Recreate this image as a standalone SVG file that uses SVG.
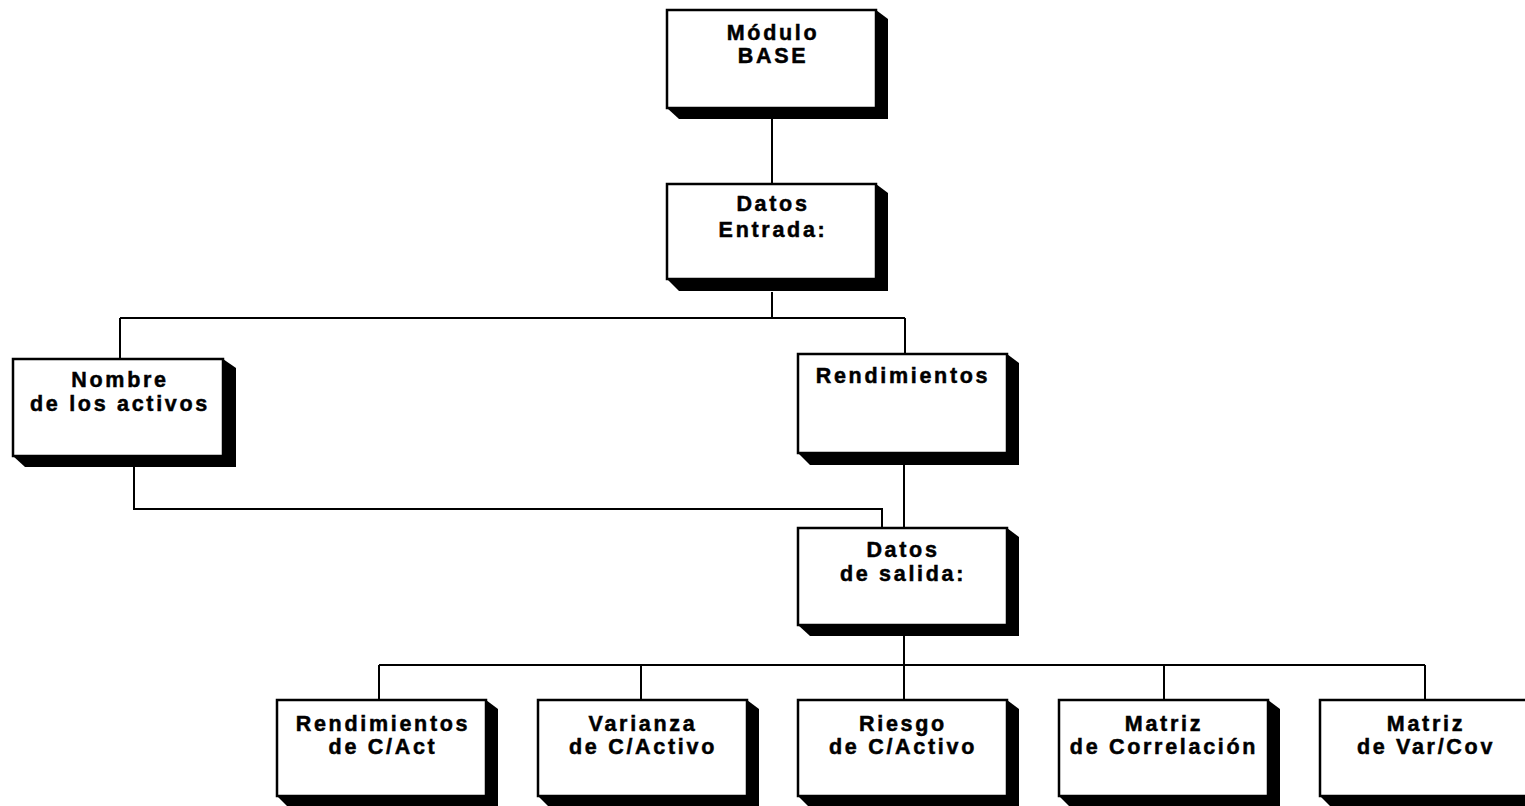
<svg xmlns="http://www.w3.org/2000/svg" width="1525" height="806" viewBox="0 0 1525 806">
<style>
.box{fill:#fff;stroke:#000;stroke-width:2.5}
.sh{fill:#000}
.t{font-family:"Liberation Sans",Arial,sans-serif;font-weight:bold;font-size:21.5px;letter-spacing:2.7px;text-anchor:middle;fill:#000;stroke:#000;stroke-width:0.5}
.c{fill:none;stroke:#000;stroke-width:2}
</style>
<rect width="1525" height="806" fill="#fff"/>
<g id="connectors">
<path class="c" d="M772,119 V184"/>
<path class="c" d="M772,292 V318 M120,318 H905 M120,318 V359 M905,318 V354"/>
<path class="c" d="M904,465 V528"/>
<path class="c" d="M134,467 V509 H882 V528"/>
<path class="c" d="M904,636 V700 M379,665 H1425 M379,665 V700 M641,665 V700 M1164,665 V700 M1425,665 V700"/>
</g>
<g id="modulo-base">
<path class="sh" d="M667,108 L679,119 L888,119 L888,19 L876,10 Z"/>
<rect class="box" x="667" y="10" width="209" height="98"/>
<text class="t" x="773" y="40">Módulo</text>
<text class="t" x="773" y="63">BASE</text>
</g>
<g id="datos-entrada">
<path class="sh" d="M667,279 L679,291 L888,291 L888,193 L876,184 Z"/>
<rect class="box" x="667" y="184" width="209" height="95"/>
<text class="t" x="773" y="211">Datos</text>
<text class="t" x="773" y="237">Entrada:</text>
</g>
<g id="nombre-activos">
<path class="sh" d="M13,456 L25,467 L236,467 L236,368 L223,359 Z"/>
<rect class="box" x="13" y="359" width="210" height="97"/>
<text class="t" x="120" y="387">Nombre</text>
<text class="t" x="120" y="411">de los activos</text>
</g>
<g id="rendimientos">
<path class="sh" d="M798,453 L810,465 L1019,465 L1019,363 L1007,354 Z"/>
<rect class="box" x="798" y="354" width="209" height="99"/>
<text class="t" x="903" y="383">Rendimientos</text>
</g>
<g id="datos-salida">
<path class="sh" d="M798,625 L810,636 L1019,636 L1019,537 L1007,528 Z"/>
<rect class="box" x="798" y="528" width="209" height="97"/>
<text class="t" x="903" y="557">Datos</text>
<text class="t" x="903" y="581">de salida:</text>
</g>
<g id="rend-cact">
<path class="sh" d="M277,796 L289,808 L498,808 L498,709 L486,700 Z"/>
<rect class="box" x="277" y="700" width="209" height="96"/>
<text class="t" x="383" y="731">Rendimientos</text>
<text class="t" x="383" y="754">de C/Act</text>
</g>
<g id="varianza">
<path class="sh" d="M538,796 L550,808 L759,808 L759,709 L747,700 Z"/>
<rect class="box" x="538" y="700" width="209" height="96"/>
<text class="t" x="643" y="731">Varianza</text>
<text class="t" x="643" y="754">de C/Activo</text>
</g>
<g id="riesgo">
<path class="sh" d="M798,796 L810,808 L1019,808 L1019,709 L1007,700 Z"/>
<rect class="box" x="798" y="700" width="209" height="96"/>
<text class="t" x="903" y="731">Riesgo</text>
<text class="t" x="903" y="754">de C/Activo</text>
</g>
<g id="matriz-correlacion">
<path class="sh" d="M1059,796 L1071,808 L1280,808 L1280,709 L1268,700 Z"/>
<rect class="box" x="1059" y="700" width="209" height="96"/>
<text class="t" x="1164" y="731">Matriz</text>
<text class="t" x="1164" y="754">de Correlación</text>
</g>
<g id="matriz-varcov">
<path class="sh" d="M1320,796 L1332,808 L1541,808 L1541,709 L1529,700 Z"/>
<rect class="box" x="1320" y="700" width="209" height="96"/>
<text class="t" x="1426" y="731">Matriz</text>
<text class="t" x="1426" y="754">de Var/Cov</text>
</g>
</svg>
